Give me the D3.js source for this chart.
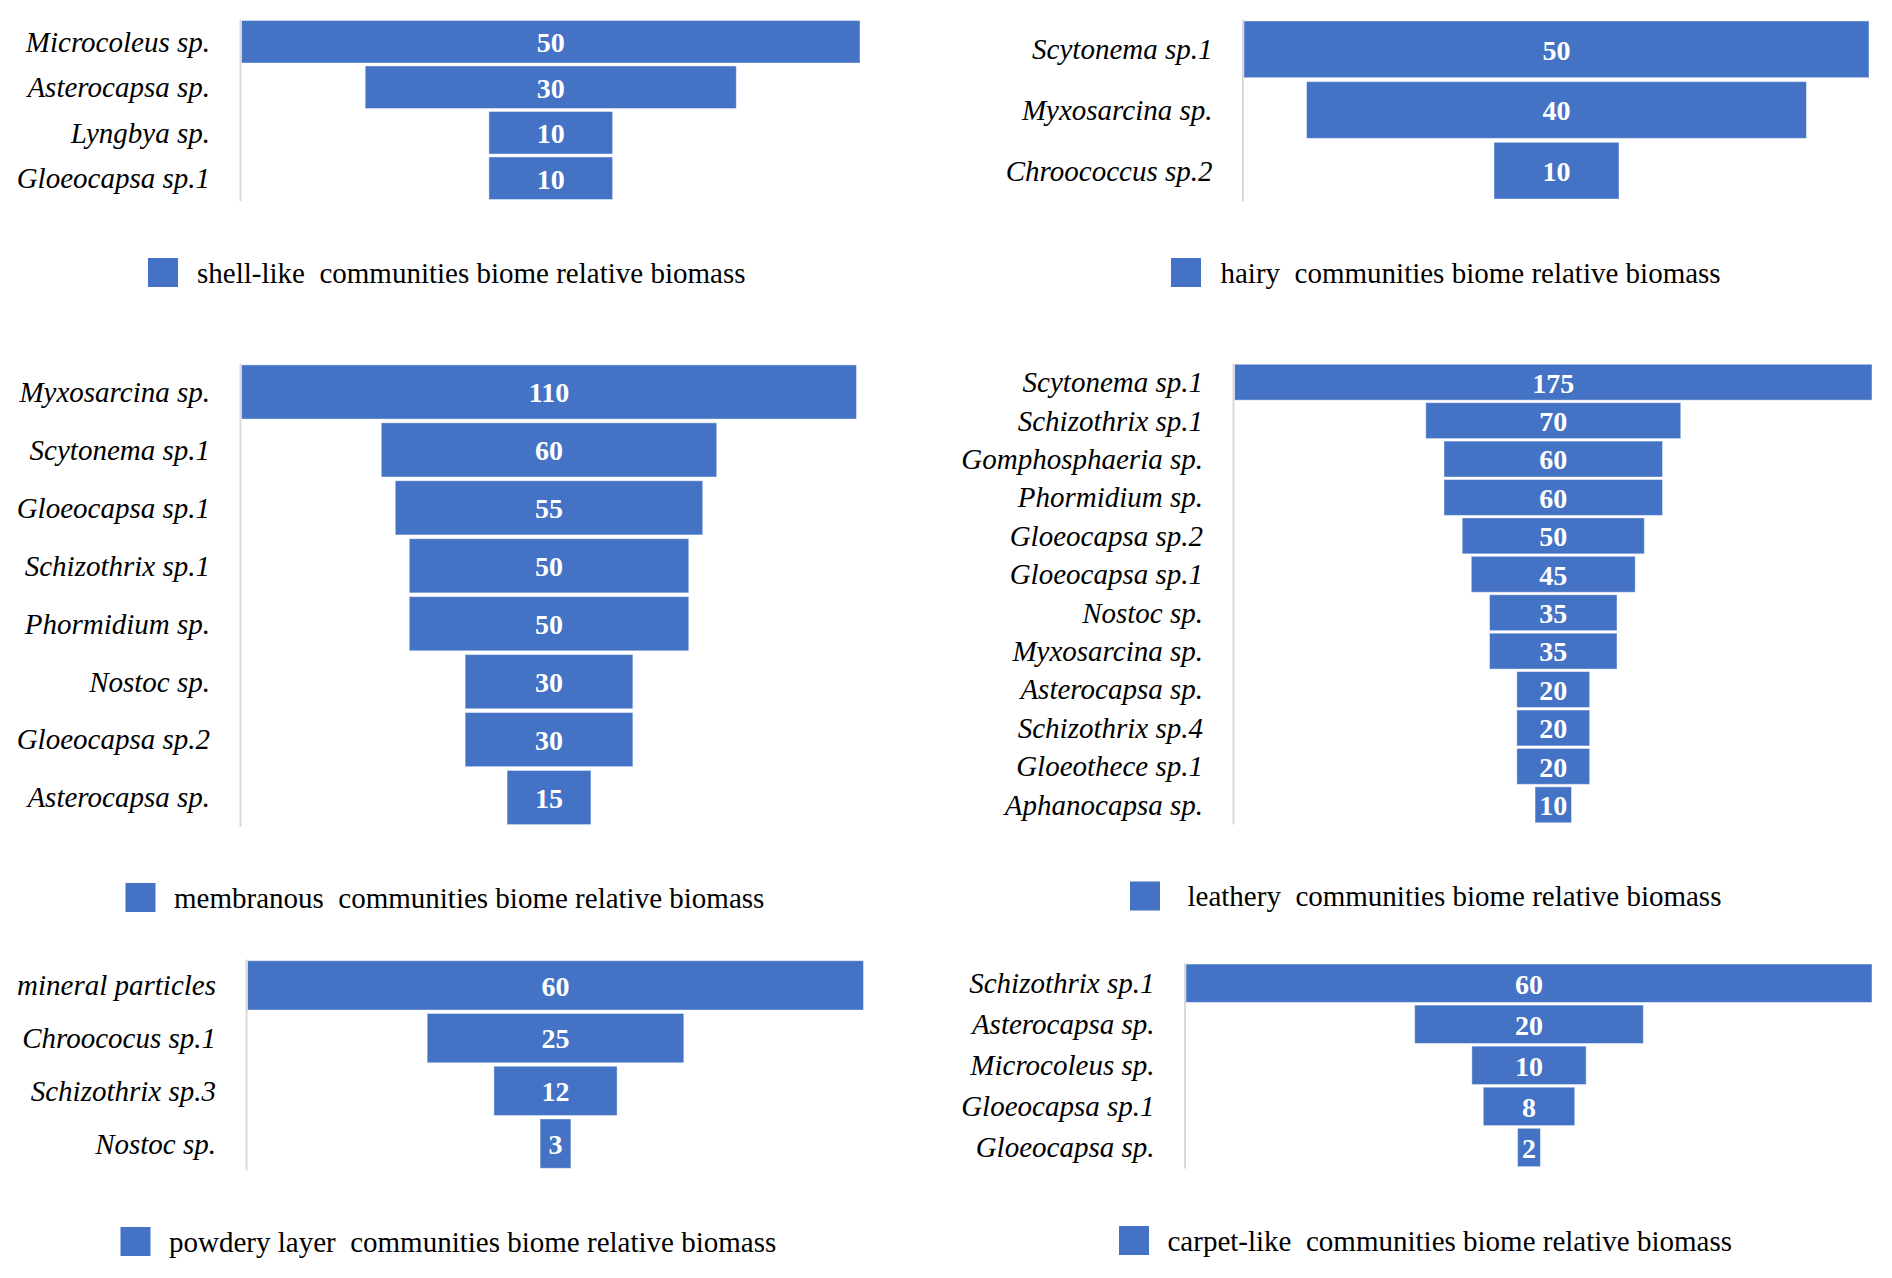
<!DOCTYPE html>
<html>
<head>
<meta charset="utf-8">
<script src="https://cdn.jsdelivr.net/npm/d3@7"></script>
<style>
  body { margin: 0; background: #fff; }
  svg { display: block; }
</style>
</head>
<body>
<div id="chart"></div>
<script>
// data for each funnel
var shellNames = ["Microcoleus sp.", "Asterocapsa sp.", "Lyngbya sp.", "Gloeocapsa sp.1"];
var shellValues = [50, 30, 10, 10];

var hairyNames = ["Scytonema sp.1", "Myxosarcina sp.", "Chroococcus sp.2"];
var hairyValues = [50, 40, 10];

var membranousNames = ["Myxosarcina sp.", "Scytonema sp.1", "Gloeocapsa sp.1", "Schizothrix sp.1",
    "Phormidium sp.", "Nostoc sp.", "Gloeocapsa sp.2", "Asterocapsa sp."];
var membranousValues = [110, 60, 55, 50, 50, 30, 30, 15];

var leatheryNames = ["Scytonema sp.1", "Schizothrix sp.1", "Gomphosphaeria sp.", "Phormidium sp.",
    "Gloeocapsa sp.2", "Gloeocapsa sp.1", "Nostoc sp.", "Myxosarcina sp.", "Asterocapsa sp.",
    "Schizothrix sp.4", "Gloeothece sp.1", "Aphanocapsa sp."];
var leatheryValues = [175, 70, 60, 60, 50, 45, 35, 35, 20, 20, 20, 10];

var powderyNames = ["mineral particles", "Chroococus sp.1", "Schizothrix sp.3", "Nostoc sp."];
var powderyValues = [60, 25, 12, 3];

var carpetNames = ["Schizothrix sp.1", "Asterocapsa sp.", "Microcoleus sp.", "Gloeocapsa sp.1", "Gloeocapsa sp."];
var carpetValues = [60, 20, 10, 8, 2];

var legendTexts = [
    "shell-like  communities biome relative biomass",
    "hairy  communities biome relative biomass",
    "membranous  communities biome relative biomass",
    "leathery  communities biome relative biomass",
    "powdery layer  communities biome relative biomass",
    "carpet-like  communities biome relative biomass"
];

var width = 1892, height = 1278;
var blue = "#4472C4";
var serif = "'Liberation Serif', 'Times New Roman', serif";

// where each panel sits on the page
var panels = [
    {names: shellNames, values: shellValues, left: 241.5, right: 860, top: 19, bottom: 201, legX: 148, legY: 258, legTextX: 197},
    {names: hairyNames, values: hairyValues, left: 1244, right: 1869, top: 19, bottom: 201, legX: 1171, legY: 258, legTextX: 1220.5},
    {names: membranousNames, values: membranousValues, left: 241.5, right: 856.5, top: 363, bottom: 826.5, legX: 125.5, legY: 883, legTextX: 174},
    {names: leatheryNames, values: leatheryValues, left: 1234.5, right: 1872, top: 363, bottom: 824, legX: 1130, legY: 881.5, legTextX: 1187.5},
    {names: powderyNames, values: powderyValues, left: 247.5, right: 863.5, top: 959, bottom: 1170, legX: 120.5, legY: 1227, legTextX: 169},
    {names: carpetNames, values: carpetValues, left: 1186, right: 1872, top: 962.7, bottom: 1168, legX: 1119, legY: 1226, legTextX: 1167.5}
];

var svg = d3.select("#chart")
    .append("svg")
    .attr("width", width)
    .attr("height", height);

svg.append("rect")
    .attr("width", width)
    .attr("height", height)
    .attr("fill", "#fff");

panels.forEach(function(p, k) {
    var data = p.names.map(function(n, i) { return {name: n, value: p.values[i]}; });
    var axisX = p.left - 1.5;
    var center = (p.left + p.right) / 2;

    var y = d3.scaleBand()
        .domain(p.names)
        .range([p.top, p.bottom])
        .paddingInner(0.065)
        .paddingOuter(0.0325);

    var w = d3.scaleLinear()
        .domain([0, d3.max(p.values)])
        .range([0, p.right - p.left]);

    var g = svg.append("g");

    // bars
    g.selectAll("rect.bar")
        .data(data)
        .enter()
        .append("rect")
        .attr("class", "bar")
        .attr("x", function(d) { return center - w(d.value) / 2; })
        .attr("y", function(d) { return y(d.name); })
        .attr("width", function(d) { return w(d.value); })
        .attr("height", y.bandwidth())
        .attr("fill", blue)
        .attr("stroke", "#fff")
        .attr("stroke-width", 1)
        .attr("stroke-opacity", 0.45);

    // values inside the bars
    g.selectAll("text.val")
        .data(data)
        .enter()
        .append("text")
        .attr("class", "val")
        .attr("x", center)
        .attr("y", function(d) { return y(d.name) + y.bandwidth() / 2; })
        .attr("dy", "0.37em")
        .attr("text-anchor", "middle")
        .style("font-family", serif)
        .style("font-weight", "bold")
        .style("font-size", "28px")
        .style("fill", "#fff")
        .text(function(d) { return d.value; });

    // category axis
    var ax = g.append("g")
        .attr("transform", "translate(" + axisX + ",0)")
        .call(d3.axisLeft(y).tickSize(0).tickSizeOuter(0).tickPadding(30));
    ax.select(".domain")
        .attr("stroke", "#d9d9d9")
        .attr("stroke-width", 2);
    ax.selectAll(".tick text")
        .attr("dy", "0.34em")
        .style("font-family", serif)
        .style("font-style", "italic")
        .style("font-size", "29px")
        .style("fill", "#000");

    // legend
    g.append("rect")
        .attr("x", p.legX)
        .attr("y", p.legY)
        .attr("width", 30)
        .attr("height", 29)
        .attr("fill", blue);
    g.append("text")
        .attr("x", p.legTextX)
        .attr("y", p.legY + 14.5)
        .attr("dy", "0.35em")
        .attr("xml:space", "preserve")
        .style("white-space", "pre")
        .style("font-family", serif)
        .style("font-size", "29px")
        .style("fill", "#000")
        .text(legendTexts[k]);
});
</script>
</body>
</html>
